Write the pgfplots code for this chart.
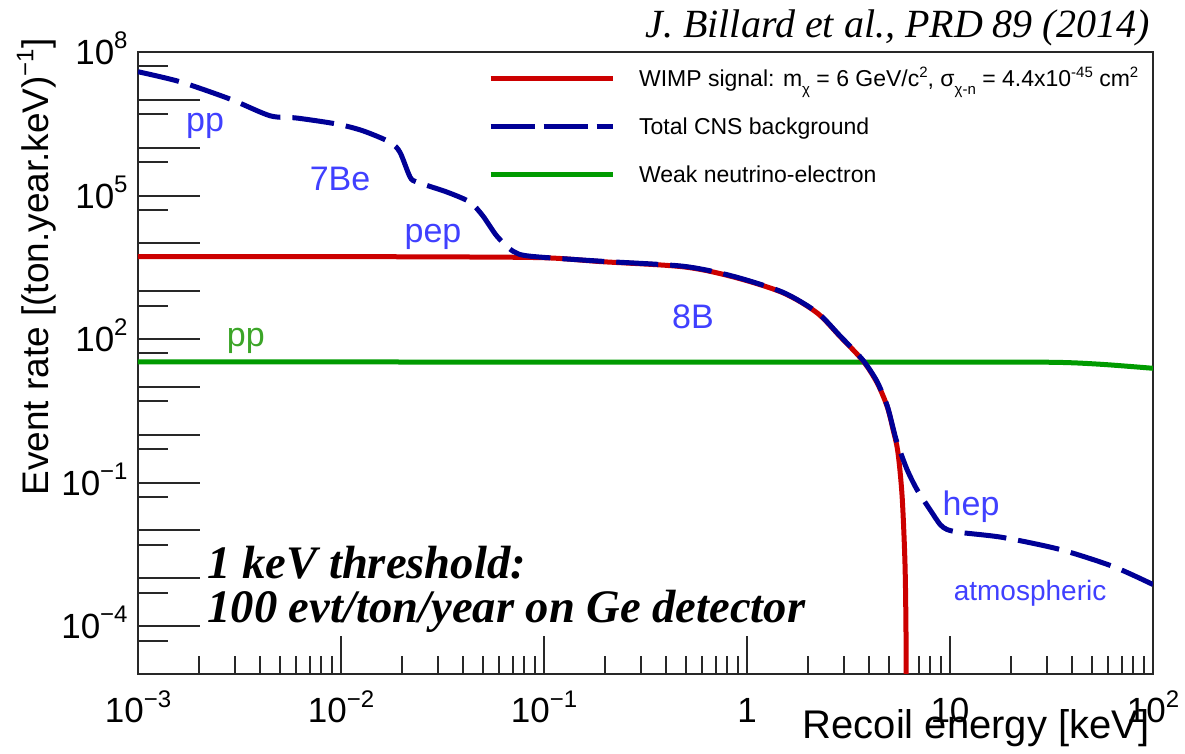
\documentclass[border=0pt]{standalone}
\usepackage{fontspec}
\setmainfont{Liberation Sans}
\newfontfamily\timesfont{Liberation Serif}
\usepackage{pgfplots}
\pgfplotsset{compat=1.18}

\definecolor{sigred}{RGB}{204,0,0}
\definecolor{cnsblue}{RGB}{0,0,150}
\definecolor{nuegreen}{RGB}{0,155,0}
\definecolor{lblblue}{RGB}{64,64,255}
\definecolor{lblgreen}{RGB}{60,165,40}
\definecolor{framegray}{RGB}{40,40,40}

% tick label "10^n" in text font
\newcommand{\tl}[1]{10\raisebox{0.45em}{\fontsize{12}{12}\selectfont #1}}
% small raised / lowered text for the legend
\newcommand{\sps}[1]{\raisebox{0.42em}{\fontsize{7.5}{7.5}\selectfont #1}}
\newcommand{\sbs}[1]{\raisebox{-0.32em}{\fontsize{7.5}{7.5}\selectfont #1}}

\begin{document}
\begin{tikzpicture}
\useasboundingbox (-69pt,-40pt) rectangle (523.5pt,337pt);

% y axis ticks, tick labels and label
\begin{axis}[
  scale only axis, width=507.5pt, height=311pt,
  xmode=log, ymode=log,
  xmin=1e-3, xmax=1e2, ymin=1e-5, ymax=1e8,
  axis line style={line width=1pt, draw=framegray},
  tick align=inside, tick pos=left,
  every tick/.style={line width=1pt, draw=framegray},
  xtick=\empty, minor xtick={},
  ytick={1e-5,1e-4,1e-3,1e-2,1e-1,1,1e1,1e2,1e3,1e4,1e5,1e6,1e7,1e8},
  yticklabels={{},\tl{−4},{},{},\tl{−1},{},{},\tl{2},{},{},\tl{5},{},{},\tl{8}},
  minor ytick={5e-6,5e-5,5e-4,5e-3,5e-2,5e-1,5,50,500,5e3,5e4,5e5,5e6,5e7},
  major tick length=31pt, minor tick length=15pt,
  yticklabel style={font=\fontsize{17.5}{17.5}\selectfont, inner sep=0pt,
    anchor=base east, xshift=-5pt, yshift=-6.25pt},
  ylabel={Event rate [(ton.year.keV)\raisebox{0.42em}{\fontsize{12}{12}\selectfont −1}]},
  ylabel style={at={(axis description cs:-0.0877,1.0225)}, anchor=base east,
    font=\fontsize{18.5}{18.5}\selectfont, inner sep=0pt},
]
\end{axis}

% x axis, curves, legend and annotations
\begin{axis}[
  scale only axis, width=507.5pt, height=311pt,
  xmode=log, ymode=log,
  xmin=1e-3, xmax=1e2, ymin=1e-5, ymax=1e8,
  axis line style={line width=1pt, draw=framegray},
  tick align=inside, tick pos=left,
  every tick/.style={line width=1pt, draw=framegray},
  ytick=\empty, minor ytick={},
  xtick={1e-3,1e-2,1e-1,1,10,100},
  xticklabels={\tl{−3},\tl{−2},\tl{−1},1,10,\tl{2}},
  minor xtick={2e-3,3e-3,4e-3,5e-3,6e-3,7e-3,8e-3,9e-3,
               2e-2,3e-2,4e-2,5e-2,6e-2,7e-2,8e-2,9e-2,
               0.2,0.3,0.4,0.5,0.6,0.7,0.8,0.9,
               2,3,4,5,6,7,8,9,
               20,30,40,50,60,70,80,90},
  major tick length=19pt, minor tick length=9pt,
  xticklabel style={font=\fontsize{17.5}{17.5}\selectfont, anchor=base, yshift=-24.5pt},
  xlabel={Recoil energy [keV]},
  xlabel style={at={(axis description cs:0.997,-0.103)}, anchor=base east,
    font=\fontsize{20}{20}\selectfont, inner sep=0pt},
  title={\timesfont\itshape J. Billard et al., PRD 89 (2014)},
  title style={at={(axis description cs:0.997,1.0225)}, anchor=base east,
    yshift=-6pt, font=\fontsize{20}{20}\selectfont, inner sep=0pt},
  legend image code/.code={\draw[#1] (0pt,0pt) -- (61pt,0pt);},
  legend style={at={(axis description cs:0.3445,0.971)}, anchor=north west,
    draw=none, fill=none, inner sep=0pt, column sep=12pt, row sep=15.8pt,
    font=\fontsize{11.5}{11.5}\selectfont,
    nodes={inner sep=0pt, text height=8.2pt, text depth=0pt, anchor=west}},
  legend cell align=left,
]
\addlegendimage{sigred, line width=2.5pt}
\addlegendentry{WIMP signal: m\sbs{χ} = 6 GeV/c\sps{2}, σ\sbs{χ-n} = 4.4x10\sps{-45} cm\sps{2}}
\addlegendimage{cnsblue, line width=2.5pt, dash pattern=on 22pt off 4.5pt}
\addlegendentry{Total CNS background}
\addlegendimage{nuegreen, line width=2.5pt}
\addlegendentry{Weak neutrino-electron}

% weak neutrino-electron scattering
\addplot[nuegreen, line width=2.5pt, smooth, forget plot] coordinates {
  (1e-3,33.2) (1e-2,33.2) (0.1,33.1) (1,33.1) (10,33.0) (32.1,32.7)
  (54.8,29.8) (100,24.5)
};
% WIMP signal
\addplot[sigred, line width=2.5pt, smooth, tension=0.5, forget plot] coordinates {
  (1e-3,5310) (1e-2,5270) (3.16e-2,5220) (0.1,5010) (0.189,4170)
  (0.484,3240) (0.853,2000) (1.50,933) (2.21,355) (2.87,114)
  (3.72,35.5) (4.37,12.3) (4.90,3.93) (5.24,1.30) (5.54,0.43)
  (5.81,0.0514) (6.00,2.14e-3) (6.07,8.5e-5) (6.10,1e-6)
};
% total coherent neutrino scattering background
\addplot[cnsblue, line width=2.5pt, dash pattern=on 21pt off 6pt,
  smooth, tension=0.45, forget plot] coordinates {
  (1e-3,3.87e7) (1.61e-3,2.39e7) (2.84e-3,1.04e7) (4.47e-3,4.65e6)
  (6.07e-3,4.16e6) (9.55e-3,3.12e6) (1.28e-2,2.26e6) (1.74e-2,1.31e6)
  (1.95e-2,8.09e5) (2.19e-2,2.43e5) (2.37e-2,1.91e5) (3.33e-2,1.18e5)
  (4.32e-2,7.28e4) (5.01e-2,3.71e4) (5.86e-2,1.42e4) (7.03e-2,6.87e3)
  (8.53e-2,5.40e3) (0.189,4.25e3) (0.484,3.33e3) (0.853,2.06e3)
  (1.50,953) (2.21,364) (2.87,117) (3.72,36.5) (4.37,13.0)
  (4.90,4.1) (5.24,1.40) (5.48,0.693) (6.14,0.189) (6.87,0.0721)
  (7.96,0.0275) (8.93,0.0134) (9.66,0.0105) (11.2,9.1e-3)
  (18.2,7.14e-3) (34.8,4.01e-3) (63.5,1.77e-3) (100,7.41e-4)
};

% neutrino source labels
\node[lblblue, font=\fontsize{17}{17}\selectfont] at (axis cs:2.14e-3,2.9e6) {pp};
\node[lblblue, font=\fontsize{17}{17}\selectfont] at (axis cs:9.89e-3,2.2e5) {7Be};
\node[lblblue, font=\fontsize{17}{17}\selectfont] at (axis cs:2.84e-2,1.35e4) {pep};
\node[lblblue, font=\fontsize{17}{17}\selectfont] at (axis cs:0.542,286) {8B};
\node[lblblue, font=\fontsize{17}{17}\selectfont] at (axis cs:12.7,0.0318) {hep};
\node[lblblue, font=\fontsize{14}{14}\selectfont] at (axis cs:24.8,4.8e-4) {atmospheric};
\node[lblgreen, font=\fontsize{17}{17}\selectfont] at (axis cs:3.4e-3,90) {pp};

% threshold note
\node[anchor=base west, inner sep=0pt, font=\timesfont\bfseries\itshape\fontsize{23.3}{23.3}\selectfont]
  at (axis description cs:0.068,0.1543) {1 keV threshold:};
\node[anchor=base west, inner sep=0pt, font=\timesfont\bfseries\itshape\fontsize{23.3}{23.3}\selectfont]
  at (axis description cs:0.068,0.0820) {100 evt/ton/year on Ge detector};
\end{axis}
\end{tikzpicture}
\end{document}
